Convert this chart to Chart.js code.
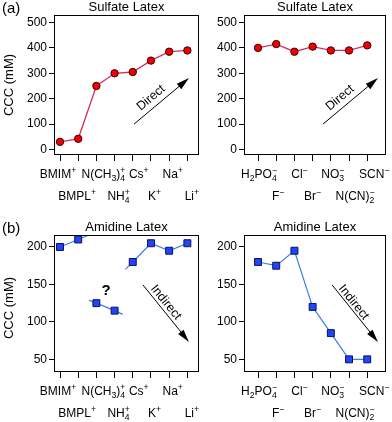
<!DOCTYPE html>
<html>
<head>
<meta charset="utf-8">
<script src="https://cdn.jsdelivr.net/npm/chart.js@4.4.1/dist/chart.umd.min.js"></script>
<style>
  html, body { margin: 0; padding: 0; background: #fff; }
  #wrap { position: relative; width: 392px; height: 422px; }
  #wrap canvas { position: absolute; left: 0; top: 0; }
</style>
</head>
<body>
<div id="wrap">
  <canvas id="sulCat" width="392" height="422"></canvas>
  <canvas id="sulAn" width="392" height="422"></canvas>
  <canvas id="amiCat" width="392" height="422"></canvas>
  <canvas id="amiAn" width="392" height="422"></canvas>
</div>
<script>
const FONT = '"Liberation Sans", Arial, Helvetica, sans-serif';
const W = 392, H = 422;

// categories ( _x = subscript, ^x = superscript )
const cations = ["BMIM^+", "BMPL^+", "N(CH_3)_4^+", "NH_4^+", "Cs^+", "K^+", "Na^+", "Li^+"];
const anions = ["H_2PO_4^−", "F^−", "Cl^−", "Br^−", "NO_3^−", "N(CN)_2^−", "SCN^−"];

// CCC in mM
const sulfateCations = [30, 42, 250, 300, 305, 350, 385, 390];
const sulfateAnions = [400, 415, 385, 405, 390, 390, 410];
const amidineCations = [200, 210, 125, 115, 180, 205, 195, 205];
const amidineAnions = [180, 175, 195, 120, 85, 50, 50];

// amidine / cations: line is split in three runs, each drawn a little past its points
const runIndices = [[0, 1], [2, 3], [4, 5, 6, 7]];
const runStarts = [[-0.15, 198], [1.6, 129], [3.6, 170]];
const runEnds = [[1.5, 215], [3.45, 110], null];

// y ticks
const sulfateTicks = [0, 100, 200, 300, 400, 500];
const amidineTicks = [50, 100, 150, 200];

// small horizontal shifts of the x labels (px), as set in the original figure
const cationNudge = [-2, -1, 7, 4, 6, 3.5, 3.5, 4.5];
const anionNudge = [1, 2, 5, 0, 2, 6, 7];

const SUL_LINE = "#d83060", SUL_FILL = "#f00000", SUL_EDGE = "#3a0000";
const AMI_LINE = "#3f7fe6", AMI_FILL = "#1f45ff", AMI_EDGE = "#101050";

const panelSpecs = {};

// draw a label with simple sub/superscripts, centred on cx
function drawRich(ctx, str, cx, base, size) {
  const small = size * 0.72;
  const parts = [];
  for (let i = 0; i < str.length; i++) {
    const c = str[i];
    if ((c === "_" || c === "^") && i + 1 < str.length) {
      parts.push({ t: str[++i], k: c });
    } else if (parts.length && parts[parts.length - 1].k === "n") {
      parts[parts.length - 1].t += c;
    } else {
      parts.push({ t: c, k: "n" });
    }
  }
  let pos = 0, lastSub = null;
  const placed = [];
  parts.forEach(p => {
    ctx.font = (p.k === "n" ? size : small) + "px " + FONT;
    const w = ctx.measureText(p.t).width;
    let x = pos;
    if (p.k === "^" && lastSub) {
      x = lastSub.x;
      pos = lastSub.x + Math.max(lastSub.w, w);
    } else {
      pos += w;
    }
    placed.push({ t: p.t, k: p.k, x });
    lastSub = p.k === "_" ? { x, w } : null;
  });
  const left = cx - pos / 2;
  placed.forEach(p => {
    ctx.font = (p.k === "n" ? size : small) + "px " + FONT;
    const dy = p.k === "_" ? size * 0.28 : p.k === "^" ? -size * 0.45 : 0;
    ctx.fillText(p.t, left + p.x, base + dy);
  });
}

const panelPlugin = {
  id: "panel",
  afterDraw(chart) {
    const p = panelSpecs[chart.canvas.id];
    const { ctx, chartArea: a } = chart;
    const x = chart.scales.x, y = chart.scales.y;
    ctx.save();
    ctx.fillStyle = "#000";
    ctx.strokeStyle = "#000";
    ctx.lineWidth = 1;

    // frame
    const l = Math.round(a.left) + 0.5, t = Math.round(a.top) + 0.5;
    const r = Math.round(a.right) - 0.5, b = Math.round(a.bottom) - 0.5;
    ctx.strokeRect(l, t, r - l, b - t);

    // x labels in two staggered rows
    ctx.textAlign = "left";
    ctx.textBaseline = "alphabetic";
    p.labels.forEach((lab, i) => {
      const base = a.bottom + (i % 2 ? 45 : 23);
      drawRich(ctx, lab, x.getPixelForValue(i) + p.nudge[i], base, 12);
    });

    // title
    ctx.font = "13px " + FONT;
    ctx.textAlign = "center";
    ctx.fillText(p.title, (a.left + a.right) / 2, a.top - 4);

    if (p.letter) {
      ctx.font = "15px " + FONT;
      ctx.textAlign = "left";
      ctx.fillText(p.letter, 2, a.top - 2);
    }

    if (p.yTitle) {
      ctx.save();
      ctx.translate(9, p.yTitleY);
      ctx.rotate(-Math.PI / 2);
      ctx.font = "13px " + FONT;
      ctx.textAlign = "center";
      ctx.textBaseline = "middle";
      ctx.fillText(p.yTitle, 0, 0);
      ctx.restore();
    }

    // trend arrow
    const ar = p.arrow;
    const x1 = x.getPixelForValue(ar.from[0]), y1 = y.getPixelForValue(ar.from[1]);
    const x2 = x.getPixelForValue(ar.to[0]), y2 = y.getPixelForValue(ar.to[1]);
    const ang = Math.atan2(y2 - y1, x2 - x1);
    const hl = 13, hw = 3.5;
    ctx.beginPath();
    ctx.moveTo(x1, y1);
    ctx.lineTo(x2 - Math.cos(ang) * hl * 0.8, y2 - Math.sin(ang) * hl * 0.8);
    ctx.stroke();
    ctx.beginPath();
    ctx.moveTo(x2, y2);
    ctx.lineTo(x2 - Math.cos(ang) * hl - Math.sin(ang) * hw, y2 - Math.sin(ang) * hl + Math.cos(ang) * hw);
    ctx.lineTo(x2 - Math.cos(ang) * hl + Math.sin(ang) * hw, y2 - Math.sin(ang) * hl - Math.cos(ang) * hw);
    ctx.closePath();
    ctx.fill();
    ctx.save();
    ctx.translate(x.getPixelForValue(ar.textAt[0]), y.getPixelForValue(ar.textAt[1]));
    ctx.rotate(ang);
    ctx.font = "12.5px " + FONT;
    ctx.textAlign = "center";
    ctx.textBaseline = "middle";
    ctx.fillText(ar.text, 0, 0);
    ctx.restore();

    if (p.mark) {
      ctx.font = "bold 15px " + FONT;
      ctx.textAlign = "center";
      ctx.textBaseline = "middle";
      ctx.fillText(p.mark.text, x.getPixelForValue(p.mark.at[0]), y.getPixelForValue(p.mark.at[1]));
    }
    ctx.restore();
  }
};

function makePanel(id, spec) {
  panelSpecs[id] = spec;
  const b = spec.box;
  return new Chart(document.getElementById(id), {
    type: "scatter",
    data: { datasets: spec.datasets },
    options: {
      responsive: false,
      animation: false,
      events: [],
      layout: { padding: { left: 0, top: b.top, right: W - b.right, bottom: H - b.bottom - 6 } },
      plugins: { legend: { display: false }, tooltip: { enabled: false } },
      scales: {
        x: {
          type: "linear", min: spec.xMin, max: spec.xMax,
          afterBuildTicks: s => { s.ticks = spec.labels.map((_, i) => ({ value: i })); },
          afterFit: s => { s.height = 6; },
          ticks: { display: false },
          grid: { drawOnChartArea: false, color: "#000", tickLength: 6 },
          border: { display: false }
        },
        y: {
          type: "linear", min: spec.yMin, max: spec.yMax,
          afterBuildTicks: s => { s.ticks = spec.yTicks.map(v => ({ value: v })); },
          afterFit: s => { s.width = b.left; },
          ticks: { color: "#000", font: { family: FONT, size: 12 }, padding: 2 },
          grid: { drawOnChartArea: false, color: "#000", tickLength: 5 },
          border: { display: false }
        }
      }
    },
    plugins: [panelPlugin]
  });
}

const pts = vals => vals.map((v, i) => ({ x: i, y: v }));

function sulfateSet(vals) {
  return [{
    data: pts(vals), showLine: true,
    borderColor: SUL_LINE, borderWidth: 1.3,
    pointStyle: "circle", pointRadius: 3.7, pointBorderWidth: 1,
    pointBackgroundColor: SUL_FILL, pointBorderColor: SUL_EDGE
  }];
}

const amiMarkers = vals => ({
  data: pts(vals), showLine: false,
  pointStyle: "rect", pointRadius: 4.9, pointBorderWidth: 1,
  pointBackgroundColor: AMI_FILL, pointBorderColor: AMI_EDGE
});

const amiRuns = runIndices.map((idx, k) => {
  const d = idx.map(i => ({ x: i, y: amidineCations[i] }));
  if (runStarts[k]) d.unshift({ x: runStarts[k][0], y: runStarts[k][1] });
  if (runEnds[k]) d.push({ x: runEnds[k][0], y: runEnds[k][1] });
  return { data: d, showLine: true, borderColor: AMI_LINE, borderWidth: 1.2, pointRadius: 0 };
});

makePanel("sulCat", {
  box: { left: 54, top: 15, right: 199, bottom: 155 },
  xMin: -0.33, xMax: 7.64, yMin: -21.7, yMax: 529.5,
  labels: cations, nudge: cationNudge, yTicks: sulfateTicks,
  title: "Sulfate Latex", letter: "(a)", yTitle: "CCC (mM)", yTitleY: 85,
  arrow: { from: [4.07, 100], to: [7.09, 281], text: "Direct", textAt: [5.0, 203] },
  datasets: sulfateSet(sulfateCations)
});

makePanel("sulAn", {
  box: { left: 244, top: 15, right: 386, bottom: 155 },
  xMin: -0.77, xMax: 7.03, yMin: -21.7, yMax: 529.5,
  labels: anions, nudge: anionNudge, yTicks: sulfateTicks,
  title: "Sulfate Latex",
  arrow: { from: [3.57, 100], to: [6.59, 281], text: "Direct", textAt: [4.5, 203] },
  datasets: sulfateSet(sulfateAnions)
});

makePanel("amiCat", {
  box: { left: 54, top: 235, right: 199, bottom: 372 },
  xMin: -0.33, xMax: 7.64, yMin: 33.1, yMax: 216,
  labels: cations, nudge: cationNudge, yTicks: amidineTicks,
  title: "Amidine Latex", letter: "(b)", yTitle: "CCC (mM)", yTitleY: 308,
  arrow: { from: [4.56, 149.3], to: [7.09, 73.2], text: "Indirect", textAt: [5.82, 126] },
  mark: { text: "?", at: [2.53, 141] },
  datasets: [amiMarkers(amidineCations)].concat(amiRuns)
});

makePanel("amiAn", {
  box: { left: 244, top: 235, right: 386, bottom: 372 },
  xMin: -0.77, xMax: 7.03, yMin: 33.1, yMax: 216,
  labels: anions, nudge: anionNudge, yTicks: amidineTicks,
  title: "Amidine Latex",
  arrow: { from: [4.07, 149.3], to: [6.59, 73.2], text: "Indirect", textAt: [5.25, 126] },
  datasets: [amiMarkers(amidineAnions), {
    data: pts(amidineAnions), showLine: true,
    borderColor: AMI_LINE, borderWidth: 1.2, pointRadius: 0
  }]
});
</script>
</body>
</html>
